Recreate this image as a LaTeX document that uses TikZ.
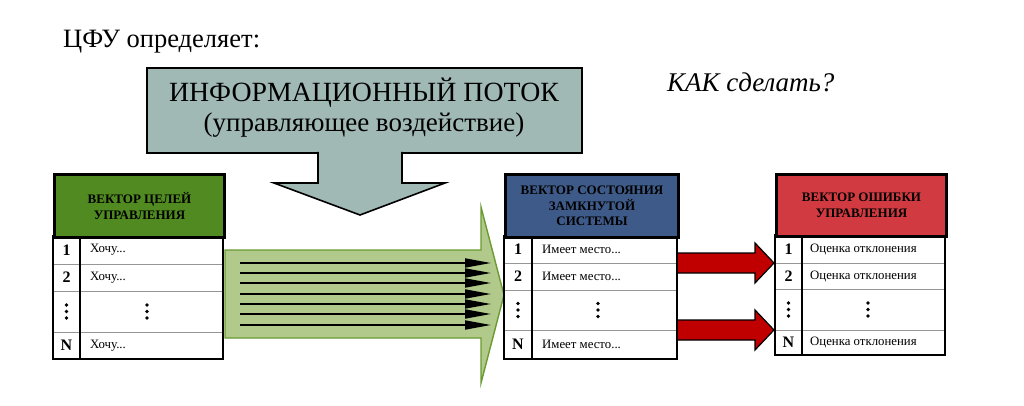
\documentclass[tikz,border=0pt]{standalone}
\usepackage{fontspec}
\setmainfont{Liberation Serif}
\usetikzlibrary{arrows.meta}
\definecolor{boxgray}{RGB}{160,185,181}
\definecolor{hgreen}{RGB}{80,138,32}
\definecolor{hblue}{RGB}{62,90,136}
\definecolor{hred}{RGB}{208,58,64}
\definecolor{flowfill}{RGB}{177,201,139}
\definecolor{flowline}{RGB}{106,154,48}
\definecolor{darkred}{RGB}{192,0,0}
\definecolor{rowgray}{RGB}{150,150,150}
\tikzset{
  hdr/.style={draw=black, line width=3pt, anchor=north west, inner sep=0pt, align=center,
    font=\fontsize{13}{15.5}\selectfont\bfseries},
  rowline/.style={draw=rowgray, line width=0.9pt},
  outer/.style={draw=black, line width=1.4pt},
  num/.style={inner sep=0pt, font=\fontsize{16}{18}\selectfont\bfseries},
  txt/.style={inner sep=0pt, anchor=west, font=\fontsize{12.8}{14}\selectfont},
  blk/.style={line width=1.8pt, -{Triangle[length=26pt,width=9pt]}},
  vdot/.style={fill=black}
}
\newcommand\threedots[2]{\fill[vdot] (#1,#2-6.5) circle (1.9pt) (#1,#2) circle (1.9pt) (#1,#2+6.5) circle (1.9pt);}
\begin{document}
\begin{tikzpicture}[x=1pt,y=-1pt]
\useasboundingbox (0,0) rectangle (1024,406);

% titles
\node[anchor=base west, inner sep=0pt, font=\fontsize{26.5}{30}\selectfont] (title) at (63,48) {ЦФУ определяет:};
\node[anchor=base west, inner sep=0pt, font=\fontsize{27}{30}\selectfont\itshape] (how) at (667,92) {КАК сделать?};

% green flow arrow
\fill[flowfill, draw=flowline, line width=1.4pt] (225,250) -- (481,250) -- (481,207) -- (504,295) -- (481,383) -- (481,338) -- (225,338) -- cycle;
\foreach \yy in {263,273,283,294,304,314,325} {\draw[blk] (240,\yy) -- (491,\yy);}

% info box with down arrow
\node[draw=black, line width=1.8pt, fill=boxgray, minimum width=435pt, minimum height=85pt, anchor=north west, inner sep=0pt] (info) at (146,67) {};
\node[font=\fontsize{27.8}{30}\selectfont, inner sep=0pt, anchor=base] (infoA) at (364,102) {ИНФОРМАЦИОННЫЙ ПОТОК};
\node[font=\fontsize{27}{30}\selectfont, inner sep=0pt, anchor=base] (infoB) at (364,132) {(управляющее воздействие)};
\fill[boxgray] (318,150) -- (318,183) -- (274,183) -- (360,215) -- (445,183) -- (402,183) -- (402,150) -- cycle;
\draw[line width=1.6pt, line join=miter] (318,152) -- (318,183) -- (274,183) -- (360,215) -- (445,183) -- (402,183) -- (402,152);

% red arrows
\filldraw[fill=darkred, draw=black, line width=1.2pt] (677,253) -- (755,253) -- (755,243) -- (774,263) -- (755,283) -- (755,273) -- (677,273) -- cycle;
\filldraw[fill=darkred, draw=black, line width=1.2pt] (677,320) -- (755,320) -- (755,310) -- (774,330) -- (755,350) -- (755,340) -- (677,340) -- cycle;

% ---------- left table
\fill[white] (53,236) rectangle (223,359);
\draw[rowline] (53,264) -- (223,264) (53,291) -- (223,291) (53,332) -- (223,332);
\draw[outer] (53,236) rectangle (223,359) (80,236) -- (80,359);
\node[hdr, fill=hgreen, minimum width=170pt, minimum height=63pt] (Lh) at (53,173) {ВЕКТОР ЦЕЛЕЙ\\УПРАВЛЕНИЯ};
\node[num] (L1) at (66.5,250) {1};
\node[num] (L2) at (66.5,277.5) {2};
\node[num] (LN) at (66.5,345.5) {N};
\node[txt] (L1t) at (90,250) {Хочу...};
\node[txt] (L2t) at (90,277.5) {Хочу...};
\node[txt] (LNt) at (90,345.5) {Хочу...};
\threedots{66.5}{311.5}
\threedots{147}{311.5}

% ---------- middle table
\fill[white] (504,236) rectangle (677,359);
\draw[rowline] (504,263) -- (677,263) (504,290) -- (677,290) (504,330) -- (677,330);
\draw[outer] (504,236) rectangle (677,359) (532,236) -- (532,359);
\node[hdr, fill=hblue, minimum width=173pt, minimum height=63pt] (Mh) at (504,173) {ВЕКТОР СОСТОЯНИЯ\\ЗАМКНУТОЙ\\СИСТЕМЫ};
\node[num] (M1) at (518,249.5) {1};
\node[num] (M2) at (518,276.5) {2};
\node[num] (MN) at (518,344.5) {N};
\node[txt] (M1t) at (542,249.5) {Имеет место...};
\node[txt] (M2t) at (542,276.5) {Имеет место...};
\node[txt] (MNt) at (542,344.5) {Имеет место...};
\threedots{518}{310}
\threedots{598}{310}

% ---------- right table
\fill[white] (775,235) rectangle (945,355);
\draw[rowline] (775,263) -- (945,263) (775,289) -- (945,289) (775,330) -- (945,330);
\draw[outer] (775,235) rectangle (945,355) (802,235) -- (802,355);
\node[hdr, fill=hred, minimum width=170pt, minimum height=62pt] (Rh) at (775,173) {ВЕКТОР ОШИБКИ\\УПРАВЛЕНИЯ};
\node[num] (R1) at (788.5,249) {1};
\node[num] (R2) at (788.5,276) {2};
\node[num] (RN) at (788.5,342.5) {N};
\node[txt] (R1t) at (810,249) {Оценка отклонения};
\node[txt] (R2t) at (810,276) {Оценка отклонения};
\node[txt] (RNt) at (810,342.5) {Оценка отклонения};
\threedots{788.5}{309.5}
\threedots{868}{309.5}
\end{tikzpicture}
\end{document}
